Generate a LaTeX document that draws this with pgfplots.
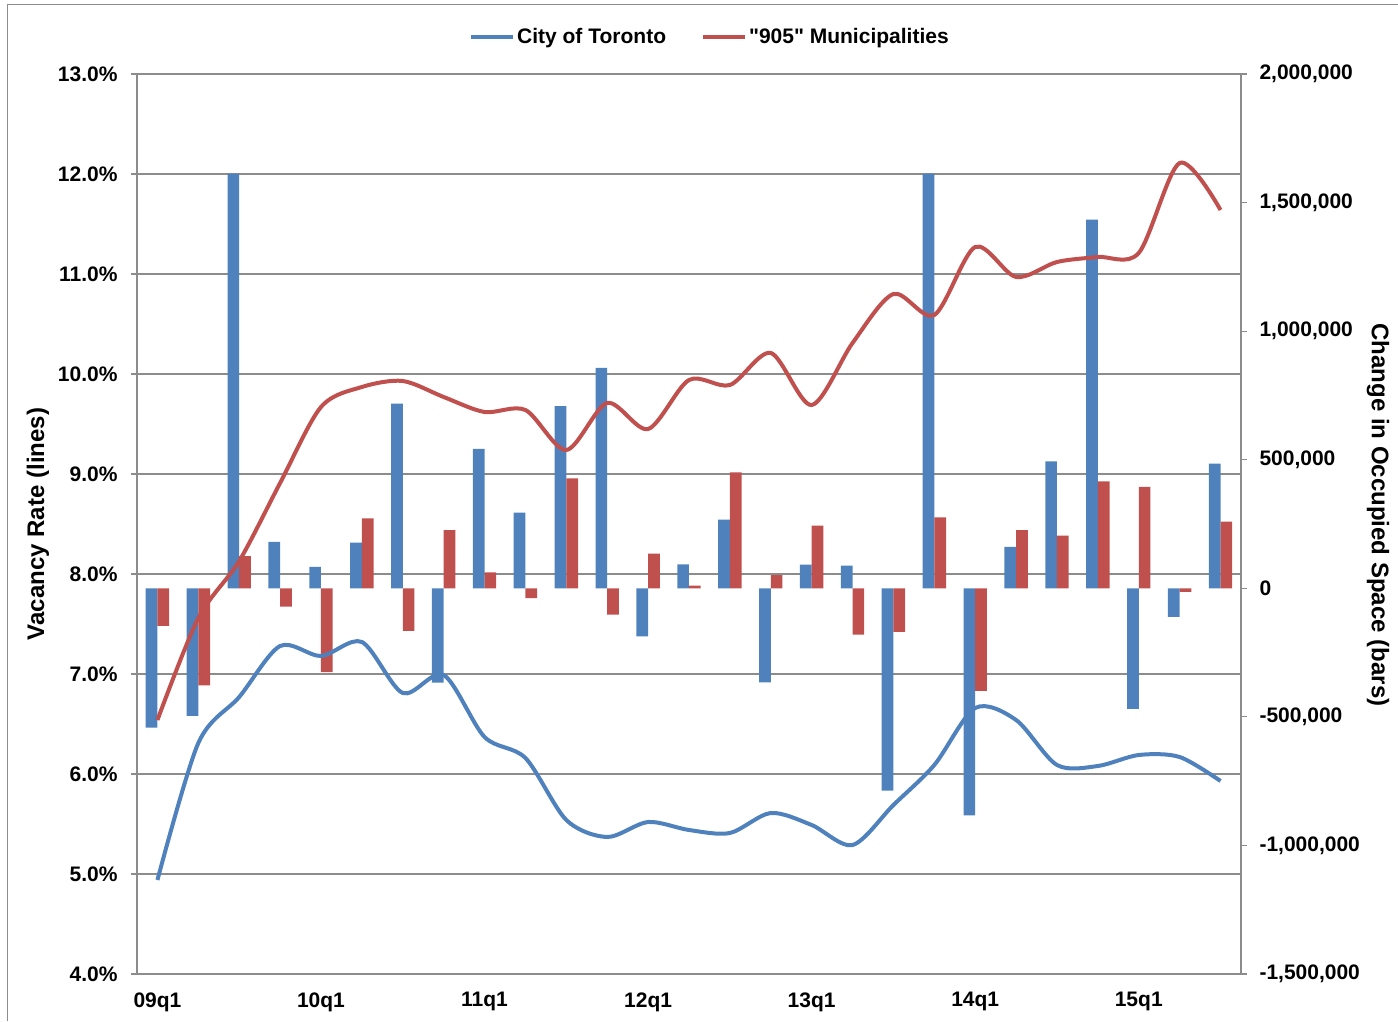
\documentclass[border=0pt]{standalone}
\usepackage{fontspec}
\setmainfont{Liberation Sans}[Ligatures=TeXOff]
\usepackage{pgfplots}
\usepackage{pgfplotstable}
\pgfplotsset{compat=1.18}
\definecolor{tblue}{HTML}{4F81BD}
\definecolor{tred}{HTML}{C0504D}
\definecolor{gridc}{HTML}{8C8C8C}

\pgfplotstableread{
i tor gta
0 -542000 -146000
1 -496000 -378000
2 1613000 125000
3 180000 -71000
4 83000 -326000
5 178000 272000
6 718000 -166000
7 -367000 226000
8 542000 62000
9 294000 -38000
10 708000 427000
11 857000 -102000
12 -187000 135000
13 93000 10000
14 267000 451000
15 -366000 51000
16 92000 244000
17 88000 -180000
18 -787000 -170000
19 1613000 276000
20 -883000 -399000
21 161000 226000
22 494000 205000
23 1434000 416000
24 -469000 394000
25 -111000 -14000
26 485000 259000
}\bars

\pgfplotstableread{
i tor gta
0 4.94 6.54
1 6.31 7.56
2 6.77 8.13
3 7.28 8.91
4 7.18 9.67
5 7.32 9.87
6 6.81 9.93
7 6.99 9.77
8 6.37 9.62
9 6.16 9.64
10 5.54 9.24
11 5.37 9.71
12 5.52 9.45
13 5.44 9.94
14 5.41 9.89
15 5.61 10.21
16 5.49 9.69
17 5.29 10.31
18 5.69 10.80
19 6.09 10.59
20 6.66 11.27
21 6.54 10.97
22 6.09 11.12
23 6.08 11.17
24 6.19 11.21
25 6.17 12.11
26 5.93 11.64
}\rates

\begin{document}
\begin{tikzpicture}
\useasboundingbox (0,0) rectangle (1398pt,1021pt);
\draw[gridc, line width=1pt] (7pt,0pt) -- (7pt,1016pt) -- (1398pt,1016pt);
\pgfplotsset{
  base/.style={
    at={(137pt,47pt)}, anchor=south west, scale only axis,
    width=1104pt, height=900pt, xmin=-0.5, xmax=26.5,
    /pgf/number format/assume math mode=true,
    tick label style={font=\fontsize{21}{25}\selectfont\bfseries},
    axis line style={gridc, line width=1.2pt},
    major tick length=6pt, tick align=outside,
    tick style={gridc, line width=1.2pt},
  },
}
% grid, left axis, x labels
\begin{axis}[base,
  ymin=4, ymax=13, ytick={4,5,6,7,8,9,10,11,12,13}, ytick pos=left,
  yticklabel={\pgfmathprintnumber[fixed,fixed zerofill,precision=1]{\tick}\%},
  yticklabel style={xshift=-10pt},
  xticklabel style={yshift=-9pt},
  ymajorgrids, grid style={gridc, line width=1.2pt},
  xtick={0,4,8,12,16,20,24},
  xticklabels={09q1,10q1,11q1,12q1,13q1,14q1,15q1},
  xtick style={draw=none},
  ylabel={Vacancy Rate (lines)},
  every axis y label/.style={at={(axis description cs:0,0.5)}, xshift=-99pt, rotate=90, anchor=center, font=\fontsize{24}{28}\selectfont\bfseries},
]
\end{axis}
% bars, right axis
\begin{axis}[base,
  ymin=-1500000, ymax=2000000,
  ytick={-1500000,-1000000,-500000,0,500000,1000000,1500000,2000000},
  axis y line*=right, axis x line=none, scaled y ticks=false,
  y tick label style={xshift=9pt, /pgf/number format/.cd, fixed, 1000 sep={,}},
  ybar=0pt, bar width=11.7pt,
  ylabel={Change in Occupied Space (bars)},
  every axis y label/.style={at={(axis description cs:1,0.51)}, xshift=137pt, rotate=-90, anchor=center, font=\fontsize{24}{28}\selectfont\bfseries},
]
\addplot[fill=tblue, draw=none] table[x=i,y=tor]{\bars};
\addplot[fill=tred, draw=none] table[x=i,y=gta]{\bars};
\end{axis}
% lines
\begin{axis}[base,
  ymin=4, ymax=13, hide axis,
  legend columns=2,
  legend style={at={(axis description cs:0.519,1)}, yshift=37pt, anchor=center,
    draw=none, fill=none, font=\fontsize{21}{25}\selectfont\bfseries,
    /tikz/every even column/.append style={column sep=33pt},
    nodes={inner sep=2pt}},
  legend image code/.code={\draw[#1] (0pt,0pt) -- (42pt,0pt);},
]
\addplot[tblue, line width=4pt, smooth, no markers] table[x=i,y=tor]{\rates};
\addlegendentry{City of Toronto}
\addplot[tred, line width=4pt, smooth, no markers] table[x=i,y=gta]{\rates};
\addlegendentry{"905" Municipalities}
\end{axis}
\end{tikzpicture}
\end{document}
